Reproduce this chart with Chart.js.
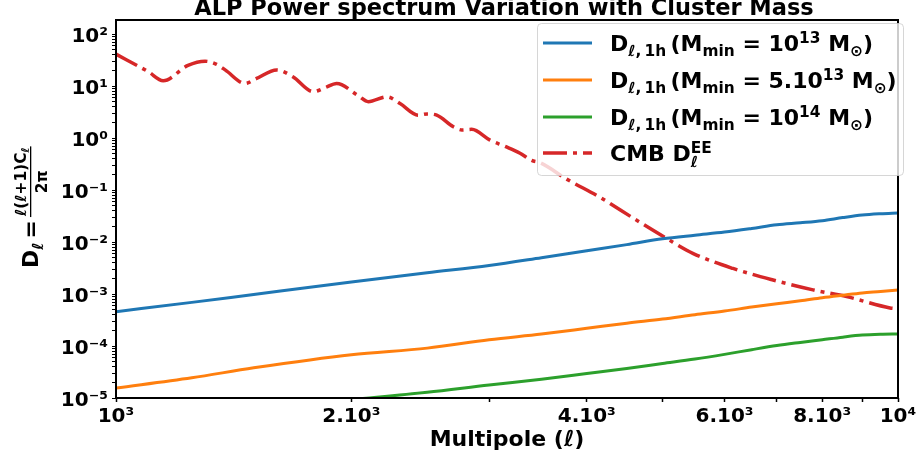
<!DOCTYPE html>
<html>
<head>
<meta charset="utf-8">
<script src="https://cdn.jsdelivr.net/npm/chart.js@4"></script>
<style>
  html, body { margin: 0; padding: 0; background: #fff; }
  canvas { display: block; }
</style>
</head>
<body>
<canvas id="myChart" width="921" height="457"></canvas>
<script>
// multipoles for the one-halo curves
const ell = [1000, 1250, 1500, 2000, 2500, 3000, 3500, 4000, 4500, 5000,
             5500, 6000, 6500, 7000, 7500, 8000, 8500, 9000, 9500, 10000];
// D_l,1h for Mmin = 1e13, 5e13, 1e14 Msun
const dlMass1e13 = [4.57e-4, 6.9e-4, 9.8e-4, 1.70e-3, 2.57e-3, 3.55e-3, 5.0e-3, 6.8e-3, 8.9e-3, 1.15e-2,
                    1.35e-2, 1.55e-2, 1.82e-2, 2.14e-2, 2.34e-2, 2.57e-2, 2.95e-2, 3.3e-2, 3.5e-2, 3.63e-2];
const dlMass5e13 = [1.55e-5, 2.45e-5, 3.8e-5, 6.8e-5, 9.1e-5, 1.32e-4, 1.70e-4, 2.19e-4, 2.75e-4, 3.3e-4,
                    4.0e-4, 4.7e-4, 5.6e-4, 6.5e-4, 7.4e-4, 8.5e-4, 9.5e-4, 1.05e-3, 1.12e-3, 1.2e-3];
const dlMass1e14 = [null, null, null, 9.3e-6, 1.29e-5, 1.78e-5, 2.29e-5, 2.95e-5, 3.7e-5, 4.6e-5,
                    5.6e-5, 6.9e-5, 8.5e-5, 1.02e-4, 1.17e-4, 1.32e-4, 1.48e-4, 1.62e-4, 1.68e-4, 1.70e-4];

// CMB EE spectrum
const cmbEll = [1000, 1100, 1149, 1236, 1300, 1345, 1379, 1462, 1513, 1605,
                1683, 1788, 1851, 1915, 2041, 2102, 2221, 2308, 2435, 2500,
                2571, 2700, 2768, 2850, 3008, 3144, 3286, 3401, 3485, 3770,
                4159, 4583, 5060, 5473, 6152, 6922, 7786, 8598, 9768, 10000];
const cmbDlEE = [41, 18.8, 12.6, 25, 30, 26, 20.4, 11.2, 14, 20.4,
                 15.1, 7.8, 9.3, 11.2, 6.5, 5.0, 6.2, 4.6, 2.75, 2.9,
                 2.75, 1.65, 1.43, 1.47, 0.91, 0.69, 0.51, 0.37, 0.335, 0.162,
                 0.072, 0.029, 0.0117, 0.006, 0.0031, 0.00186, 0.0012, 0.00089, 0.00054, 0.00052];

const xTickValues = [1000, 2000, 3000, 4000, 5000, 6000, 7000, 8000, 9000, 10000];
const xTickLabels = {1000: '10³', 2000: '2.10³', 4000: '4.10³', 6000: '6.10³', 8000: '8.10³', 10000: '10⁴'};
const yDecades = [-5, -4, -3, -2, -1, 0, 1, 2];
const titleText = 'ALP Power spectrum Variation with Cluster Mass';
const xTitle = 'Multipole (ℓ)';

const FONT = '"DejaVu Sans"';
const colors = ['#1f77b4', '#ff7f0e', '#2ca02c', '#d62728'];
const cmbDash = [24, 6, 4, 6];
const Y_MAX = 186;

const sup = {'-': '⁻', '0': '⁰', '1': '¹', '2': '²', '3': '³', '4': '⁴', '5': '⁵', '6': '⁶', '7': '⁷', '8': '⁸', '9': '⁹'};
function yLabel(v) {
    const e = Math.log10(v);
    if (Math.abs(e - Math.round(e)) > 1e-6) return '';
    return '10' + String(Math.round(e)).split('').map(c => sup[c]).join('');
}

function pts(xs, ys) {
    return xs.map((x, i) => ({x: x, y: ys[i]}));
}

// rich text: parts = [text, size, rise, stack]
function rich(ctx, x, y, parts, draw) {
    let cx = x, hold = 0;
    for (const p of parts) {
        ctx.font = 'bold ' + p[1] + 'px ' + FONT;
        const w = ctx.measureText(p[0]).width;
        if (draw !== false) ctx.fillText(p[0], cx, y - p[2]);
        if (p[3]) { hold = Math.max(hold, w); continue; }
        cx += Math.max(w, hold);
        hold = 0;
    }
    return cx - x;
}

const sub1h = 'ℓ,\u20091h';
const legendItems = [
    [['D', 22, 0], [sub1h, 15.4, -4.5], ['\u2009(M', 22, 0], ['min', 15.4, -4.5], [' = 10', 22, 0], ['13', 15.4, 8.5], [' M', 22, 0], ['⊙', 15.4, -4.5], [')', 22, 0]],
    [['D', 22, 0], [sub1h, 15.4, -4.5], ['\u2009(M', 22, 0], ['min', 15.4, -4.5], [' = 5.10', 22, 0], ['13', 15.4, 8.5], [' M', 22, 0], ['⊙', 15.4, -4.5], [')', 22, 0]],
    [['D', 22, 0], [sub1h, 15.4, -4.5], ['\u2009(M', 22, 0], ['min', 15.4, -4.5], [' = 10', 22, 0], ['14', 15.4, 8.5], [' M', 22, 0], ['⊙', 15.4, -4.5], [')', 22, 0]],
    [['CMB D', 22, 0], ['ℓ', 15.4, -5.5, true], ['EE', 15.4, 8.5]]
];

const decorations = {
    id: 'decorations',
    afterDraw(chart) {
        const ctx = chart.ctx;
        const a = chart.chartArea;
        ctx.save();
        // frame
        ctx.strokeStyle = '#000';
        ctx.lineWidth = 2;
        ctx.strokeRect(a.left, a.top, a.right - a.left, a.bottom - a.top);

        // legend box
        ctx.beginPath();
        ctx.roundRect(537.5, 23.5, 366, 152, 4);
        ctx.fillStyle = 'rgba(255,255,255,0.8)';
        ctx.fill();
        ctx.strokeStyle = 'rgba(204,204,204,0.8)';
        ctx.lineWidth = 1;
        ctx.stroke();
        const rows = [43, 80, 117, 153];
        chart.data.datasets.forEach((ds, i) => {
            ctx.beginPath();
            ctx.setLineDash(ds.borderDash || []);
            ctx.strokeStyle = ds.borderColor;
            ctx.lineWidth = ds.borderWidth;
            ctx.moveTo(543, rows[i]);
            ctx.lineTo(592, rows[i]);
            ctx.stroke();
            ctx.setLineDash([]);
            ctx.fillStyle = '#000';
            ctx.textBaseline = 'alphabetic';
            ctx.textAlign = 'left';
            rich(ctx, 610, rows[i] + 8, legendItems[i]);
        });

        // title
        ctx.fillStyle = '#000';
        ctx.textAlign = 'center';
        ctx.textBaseline = 'alphabetic';
        ctx.font = 'bold 22.5px ' + FONT;
        ctx.fillText(titleText, (a.left + a.right) / 2 - 3, 15);

        // y axis label: D_l = l(l+1)C_l / 2pi
        ctx.textAlign = 'left';
        ctx.translate(38, 268);
        ctx.rotate(-Math.PI / 2);
        let x = rich(ctx, 0, 0, [['D', 22, 0], ['ℓ', 15.4, -4.5]]);
        x += 4;
        ctx.font = 'bold 22px ' + FONT;
        ctx.fillText('=', x, 0);
        x += ctx.measureText('=').width + 3;
        const num = [['ℓ(ℓ+1)C', 15.4, 0], ['ℓ', 11, -3]];
        const numW = rich(ctx, 0, 0, num, false);
        ctx.font = 'bold 15.4px ' + FONT;
        const denW = ctx.measureText('2π').width;
        const fw = Math.max(numW, denW) + 2;
        rich(ctx, x + (fw - numW) / 2, -12, num);
        ctx.fillRect(x, -8, fw, 1.3);
        ctx.font = 'bold 15.4px ' + FONT;
        ctx.fillText('2π', x + (fw - denW) / 2, 9);
        ctx.restore();
    }
};

const tickFont = {family: FONT, size: 20, weight: 'bold'};

new Chart(document.getElementById('myChart').getContext('2d'), {
    type: 'line',
    data: {
        datasets: [
            {label: 'Mmin = 1e13', data: pts(ell, dlMass1e13), borderColor: colors[0], borderWidth: 3},
            {label: 'Mmin = 5e13', data: pts(ell, dlMass5e13), borderColor: colors[1], borderWidth: 3},
            {label: 'Mmin = 1e14', data: pts(ell, dlMass1e14), borderColor: colors[2], borderWidth: 3},
            {label: 'CMB EE', data: pts(cmbEll, cmbDlEE), borderColor: colors[3], borderWidth: 3.5, borderDash: cmbDash}
        ]
    },
    options: {
        responsive: false,
        animation: false,
        devicePixelRatio: 1,
        layout: {padding: {top: 20, right: 23, bottom: 0, left: 0}},
        elements: {
            point: {radius: 0},
            line: {cubicInterpolationMode: 'monotone', fill: false, borderCapStyle: 'butt'}
        },
        plugins: {
            legend: {display: false},
            title: {display: false},
            tooltip: {enabled: false}
        },
        scales: {
            x: {
                type: 'logarithmic',
                min: 1000,
                max: 10000,
                grid: {drawOnChartArea: false, drawTicks: true, tickLength: 4, tickColor: '#000', tickWidth: 1.5},
                border: {display: false},
                ticks: {
                    autoSkip: false, maxRotation: 0, color: '#000', font: tickFont, padding: 3,
                    callback: v => xTickLabels[v] || ''
                },
                afterBuildTicks: s => { s.ticks = xTickValues.map(v => ({value: v})); },
                title: {display: true, text: xTitle, color: '#000', font: {family: FONT, size: 22, weight: 'bold'}, padding: {top: 0, bottom: 4}},
                afterFit: s => { s.height = 59; }
            },
            y: {
                type: 'logarithmic',
                min: 1e-5,
                max: Y_MAX,
                grid: {drawOnChartArea: false, drawTicks: true, tickLength: 4, tickColor: '#000', tickWidth: 1},
                border: {display: false},
                ticks: {
                    autoSkip: false, color: '#000', font: tickFont, padding: 4, labelOffset: 3,
                    callback: v => yLabel(v)
                },
                afterBuildTicks: s => {
                    const t = [];
                    yDecades.forEach(e => {
                        for (let k = 1; k < 10; k++) {
                            const v = k * Math.pow(10, e);
                            if (v <= Y_MAX) t.push({value: k === 1 ? Math.pow(10, e) : v});
                        }
                    });
                    s.ticks = t;
                },
                afterFit: s => { s.width = 116; }
            }
        }
    },
    plugins: [decorations]
});
</script>
</body>
</html>
